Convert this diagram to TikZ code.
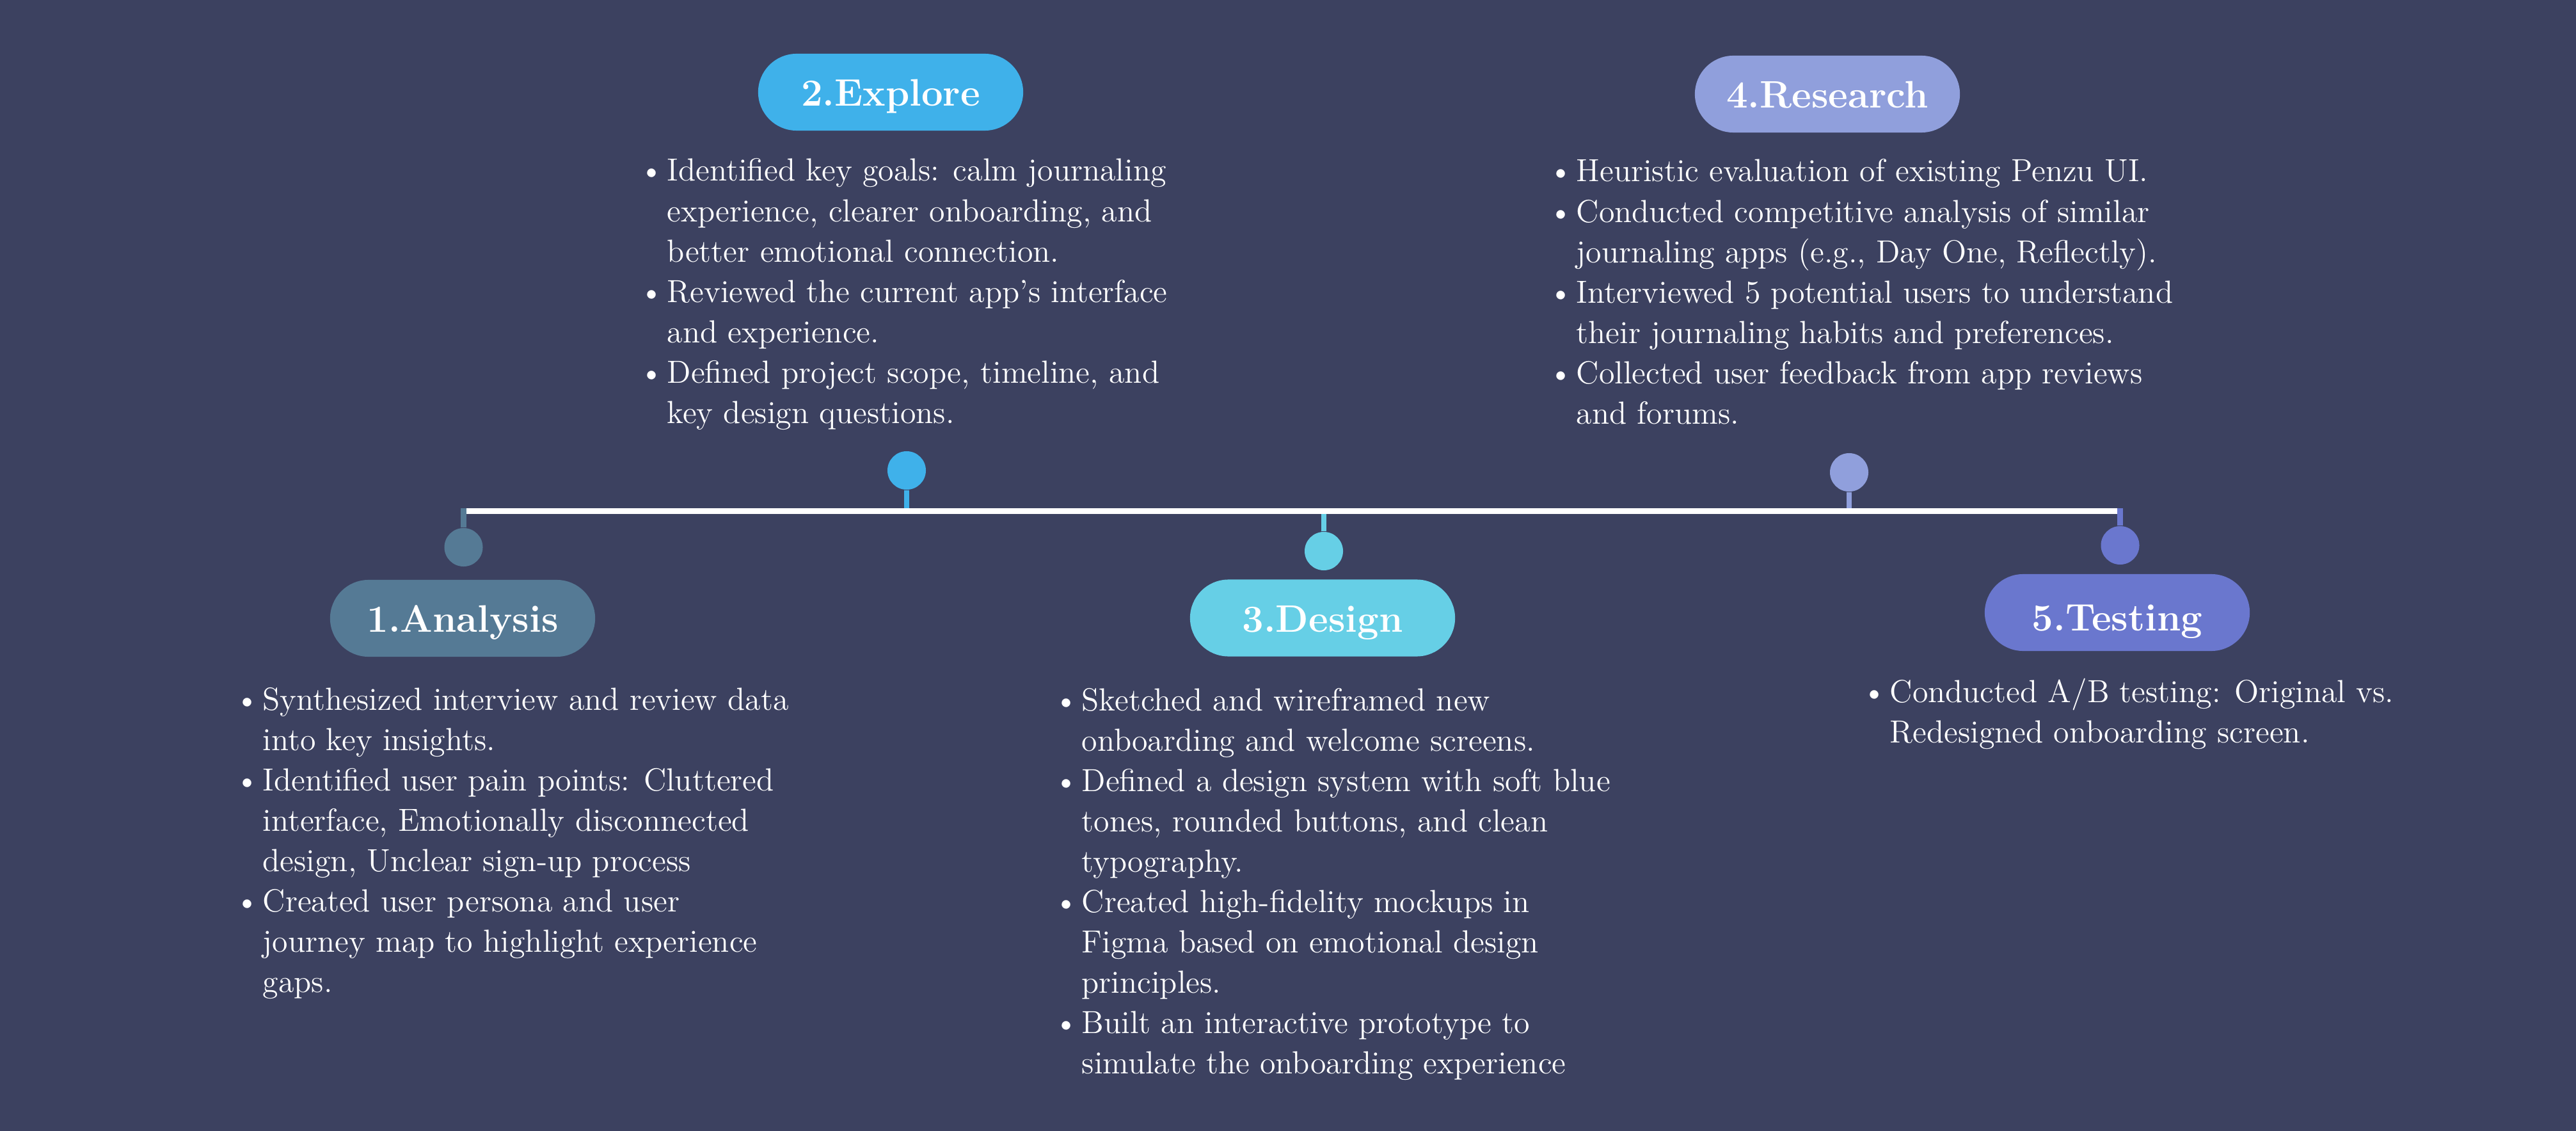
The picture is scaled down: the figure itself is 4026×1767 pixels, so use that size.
\documentclass[tikz,border=0pt]{standalone}
\usepackage{fontspec}
\usetikzlibrary{calc}

\definecolor{bgcol}{HTML}{3C4160}
\definecolor{anacol}{HTML}{557A95}
\definecolor{expcol}{HTML}{3FB1EA}
\definecolor{descol}{HTML}{66CFE6}
\definecolor{rescol}{HTML}{909FDC}
\definecolor{tstcol}{HTML}{6A77CE}

\newcommand{\bmk}{\textbullet}
\newenvironment{steplist}{\begin{tabular}[t]{@{}p{0.43cm}@{}l@{}}}{\end{tabular}}

\tikzset{
  pill/.style={rectangle, rounded corners=0.6cm, minimum width=4.14cm, minimum height=1.2cm,
    inner sep=0pt, text=white, font=\fontsize{17pt}{20pt}\selectfont\bfseries,
    text height=0.43cm, text depth=0pt},
  dot/.style={circle, minimum size=0.6cm, inner sep=0pt},
  stem/.style={line width=0.085cm},
  timeline/.style={line width=0.09cm, white},
  body/.style={inner sep=0pt, text=white, anchor=base west,
    font=\fontsize{14.2pt}{17.93pt}\selectfont},
}

\begin{document}
\begin{tikzpicture}[x=0.01cm, y=-0.01cm]
  % canvas
  \fill[bgcol] (0,0) rectangle (4026,1767);

  % timeline ends
  \coordinate (lineL) at (729,798.5);
  \coordinate (lineR) at (3309,798.5);

  % milestone dots
  \node[dot, fill=anacol] (c1) at (724.5,855) {};
  \node[dot, fill=expcol] (c2) at (1417,735) {};
  \node[dot, fill=descol] (c3) at (2069,861) {};
  \node[dot, fill=rescol] (c4) at (2890,738) {};
  \node[dot, fill=tstcol] (c5) at (3313.5,852) {};

  % stems joining the dots to the timeline
  \draw[stem, anacol] (c1.north) -- (c1.north |- 0,794);
  \draw[stem, expcol] (c2.south) -- (c2.south |- lineL);
  \draw[stem, descol] (c3.north) -- (c3.north |- lineL);
  \draw[stem, rescol] (c4.south) -- (c4.south |- lineL);
  \draw[stem, tstcol] (c5.north) -- (c5.north |- 0,794);

  % timeline
  \draw[timeline] (lineL) -- (lineR);

  % phase labels
  \node[pill, fill=anacol] (p1) at (723,966) {1.Analysis};
  \node[pill, fill=expcol] (p2) at (1392,144) {2.Explore};
  \node[pill, fill=descol] (p3) at (2067,965.5) {3.Design};
  \node[pill, fill=rescol] (p4) at (2856,147) {4.Research};
  \node[pill, fill=tstcol, text height=0.57cm] (p5) at (3309,957) {5.Testing};

  % phase details
  \node[body] (t1) at (367,1109) {\begin{steplist}
    \bmk & Synthesized interview and review data\\
         & into key insights.\\
    \bmk & Identified user pain points: Cluttered\\
         & interface, Emotionally disconnected\\
         & design, Unclear sign-up process\\
    \bmk & Created user persona and user\\
         & journey map to highlight experience\\
         & gaps.
  \end{steplist}};

  \node[body] (t2) at (999,283) {\begin{steplist}
    \bmk & Identified key goals: calm journaling\\
         & experience, clearer onboarding, and\\
         & better emotional connection.\\
    \bmk & Reviewed the current app’s interface\\
         & and experience.\\
    \bmk & Defined project scope, timeline, and\\
         & key design questions.
  \end{steplist}};

  \node[body] (t3) at (1647,1110) {\begin{steplist}
    \bmk & Sketched and wireframed new\\
         & onboarding and welcome screens.\\
    \bmk & Defined a design system with soft blue\\
         & tones, rounded buttons, and clean\\
         & typography.\\
    \bmk & Created high-fidelity mockups in\\
         & Figma based on emotional design\\
         & principles.\\
    \bmk & Built an interactive prototype to\\
         & simulate the onboarding experience
  \end{steplist}};

  \node[body] (t4) at (2420,284) {\begin{steplist}
    \bmk & Heuristic evaluation of existing Penzu UI.\\
    \bmk & Conducted competitive analysis of similar\\
         & journaling apps (e.g., Day One, Reflectly).\\
    \bmk & Interviewed 5 potential users to understand\\
         & their journaling habits and preferences.\\
    \bmk & Collected user feedback from app reviews\\
         & and forums.
  \end{steplist}};

  \node[body] (t5) at (2910,1097) {\begin{steplist}
    \bmk & Conducted A/B testing: Original vs.\\
         & Redesigned onboarding screen.
  \end{steplist}};
\end{tikzpicture}
\end{document}
